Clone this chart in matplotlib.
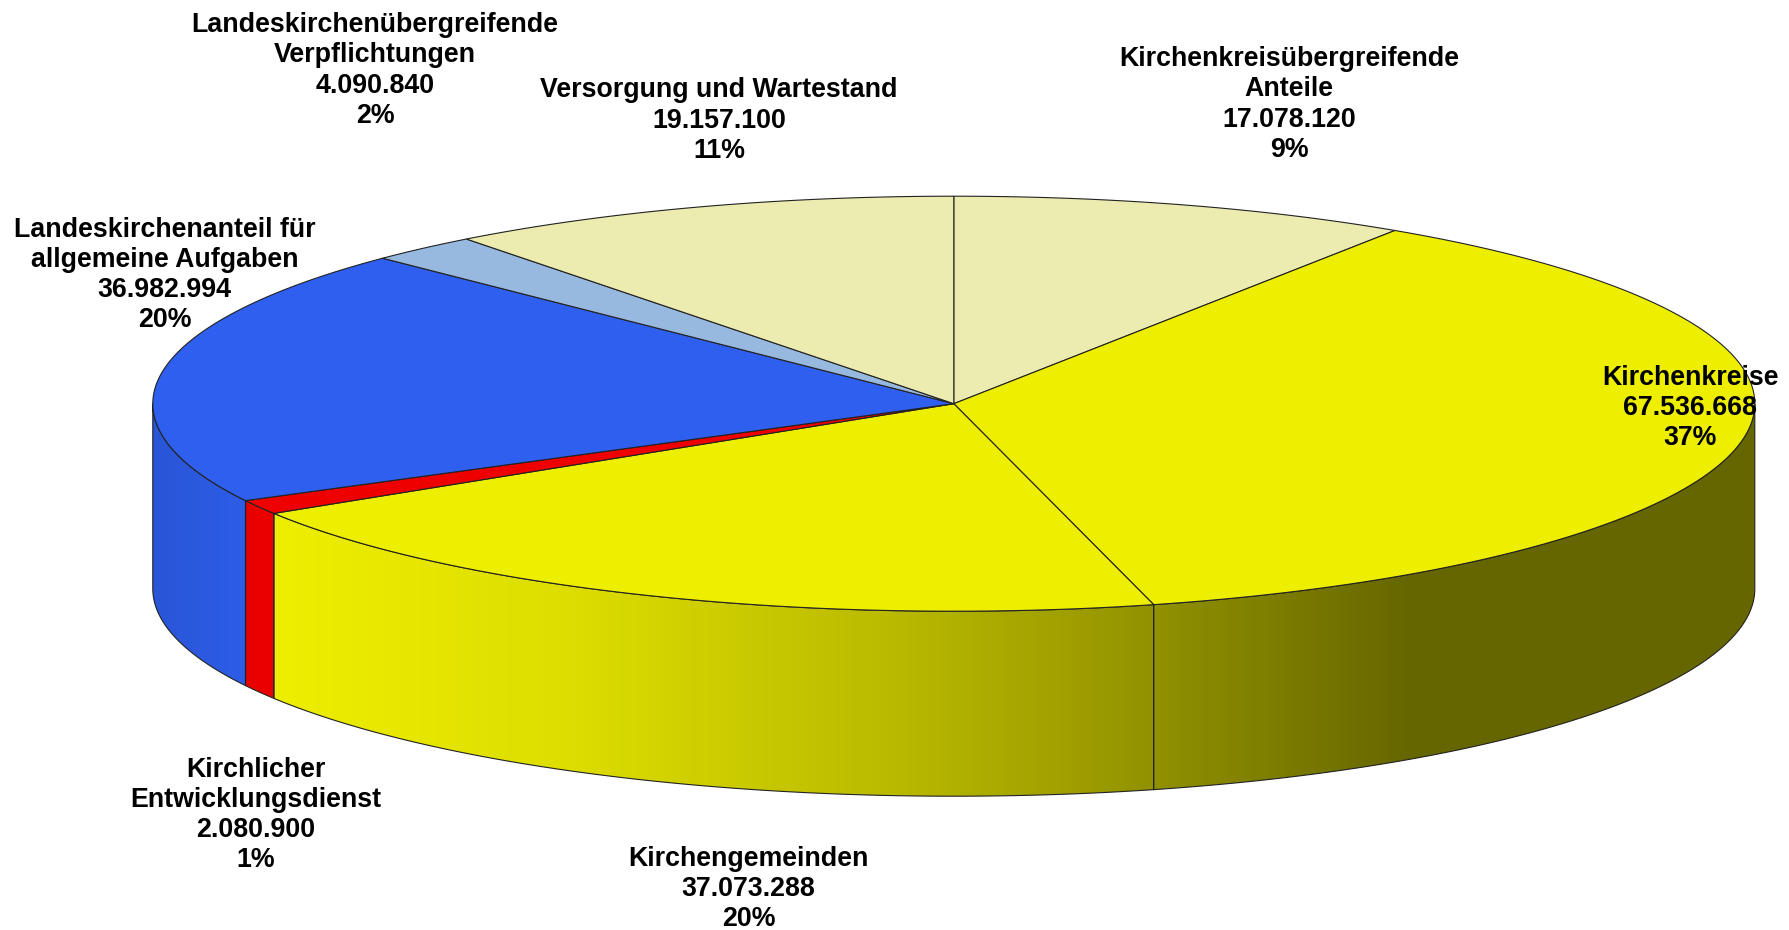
#! /usr/bin/env python

import numpy as np
import matplotlib
matplotlib.use('Agg')
import matplotlib.pyplot as plt
from matplotlib.patches import Polygon

##
## The data, clockwise from 12 o'clock
##
names = ['Kirchenkreisübergreifende\nAnteile', 'Kirchenkreise', 'Kirchengemeinden',
         'Kirchlicher\nEntwicklungsdienst', 'Landeskirchenanteil für\nallgemeine Aufgaben',
         'Landeskirchenübergreifende\nVerpflichtungen', 'Versorgung und Wartestand']
values = [17078120, 67536668, 37073288, 2080900, 36982994, 4090840, 19157100]
percents = ['9%', '37%', '20%', '1%', '20%', '2%', '11%']
colors = ['#ECECB0', '#EEEE00', '#EEEE00', '#EE0000', '#2E5FEE', '#98B9DF', '#ECECB0']

# label centres in pixels
label_x = [1289, 1690, 748.5, 255.5, 164.5, 375, 719]
label_y = [102.5, 406, 887, 813, 273, 68.5, 118.5]

# pie geometry in pixels
cx, cy = 953.8, 403.7
rx, ry = 801, 207.5
depth = 185

# brightness of the side wall against x
shade_x = [152, 280, 570, 913, 1155, 1408, 1754]
shade_v = [0.90, 1.0, 0.93, 0.77, 0.61, 0.43, 0.43]

def rim(a0, a1):
    t = np.radians(np.linspace(a0, a1, max(int(abs(a1 - a0) * 4), 2)))
    return cx + rx * np.sin(t), cy - ry * np.cos(t)

fig = plt.figure(figsize=(17.89, 9.30), dpi=100)
ax = fig.add_axes([0, 0, 1, 1])
ax.set_xlim(0, 1789)
ax.set_ylim(930, 0)
ax.axis('off')

edges = np.cumsum([0] + values) / float(sum(values)) * 360.0

# side wall, only the front half shows
xgrid = np.arange(150, 1757)
shade = np.interp(xgrid, shade_x, shade_v)
for i in range(len(values)):
    a0, a1 = max(edges[i], 90), min(edges[i + 1], 270)
    if a1 <= a0:
        continue
    x, y = rim(a0, a1)
    pts = np.r_[np.c_[x, y], np.c_[x, y + depth][::-1]]
    rgb = np.array(matplotlib.colors.to_rgb(colors[i]))
    img = shade[None, :, None] * rgb
    poly = Polygon(pts, closed=True, fc='none', ec='#222222', lw=0.8, zorder=3)
    ax.add_patch(poly)
    im = ax.imshow(img, extent=[150, 1757, 930, 0], aspect='auto', zorder=2, interpolation='bilinear')
    im.set_clip_path(poly)
ax.set_xlim(0, 1789)
ax.set_ylim(930, 0)

# top face
for i in range(len(values)):
    x, y = rim(edges[i], edges[i + 1])
    pts = np.r_[[[cx, cy]], np.c_[x, y]]
    ax.add_patch(Polygon(pts, closed=True, fc=colors[i], ec='#222222', lw=0.8, zorder=4))

for i in range(len(values)):
    txt = '%s\n%s\n%s' % (names[i], format(values[i], ',').replace(',', '.'), percents[i])
    ax.text(label_x[i], label_y[i] + 2, txt, ha='center', va='center', ma='center',
            family='Liberation Sans', weight='bold', fontsize=19.3, linespacing=1.21,
            color='black', zorder=5)

plt.savefig('out.png', dpi=100)
